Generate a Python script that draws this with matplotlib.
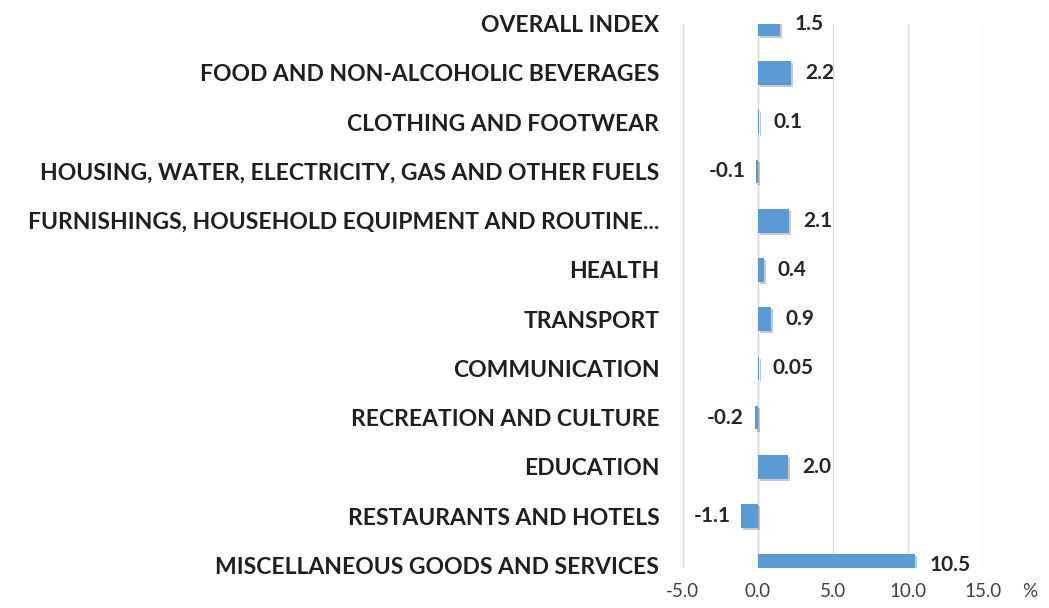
import matplotlib
matplotlib.use("Agg")
import matplotlib.pyplot as plt
import matplotlib.patheffects as pe

plt.rcParams['font.family'] = ['Lato', 'DejaVu Sans']

categories = [
    "OVERALL INDEX",
    "FOOD AND NON-ALCOHOLIC BEVERAGES",
    "CLOTHING AND FOOTWEAR",
    "HOUSING, WATER, ELECTRICITY, GAS AND OTHER FUELS",
    "FURNISHINGS, HOUSEHOLD EQUIPMENT AND ROUTINE...",
    "HEALTH",
    "TRANSPORT",
    "COMMUNICATION",
    "RECREATION AND CULTURE",
    "EDUCATION",
    "RESTAURANTS AND HOTELS",
    "MISCELLANEOUS GOODS AND SERVICES",
]
values = [1.5, 2.2, 0.1, -0.1, 2.1, 0.4, 0.9, 0.05, -0.2, 2.0, -1.1, 10.5]
value_labels = ["1.5", "2.2", "0.1", "-0.1", "2.1", "0.4", "0.9", "0.05", "-0.2", "2.0", "-1.1", "10.5"]
x_ticks = [-5, 0, 5, 10, 15]

fig = plt.figure(figsize=(10.49, 6.08), dpi=100)
ax = fig.add_axes([0.651, 0.066, 0.286, 0.895])

pos = list(range(len(categories)))
bars = ax.barh(pos, values, height=0.48, color="#5B9BD5", zorder=3,
               path_effects=[pe.SimplePatchShadow(offset=(1.5, -1.5), alpha=0.25),
                             pe.Normal()])

for p, v, lab in zip(pos, values, value_labels):
    if v >= 0:
        ax.annotate(lab, (v, p), xytext=(10, 0), textcoords="offset points",
                    ha="left", va="center", fontsize=15, fontweight="bold",
                    color="#262626", annotation_clip=False)
    else:
        ax.annotate(lab, (v, p), xytext=(-8, 0), textcoords="offset points",
                    ha="right", va="center", fontsize=15, fontweight="bold",
                    color="#262626", annotation_clip=False)

ax.set_xlim(-5, 15)
ax.set_ylim(11.05, 0)
ax.set_xticks(x_ticks)
ax.set_xticklabels([f"{t:.1f}" for t in x_ticks], fontsize=13.5, color="#404040")
ax.set_yticks(pos)
ax.set_yticklabels(categories, fontsize=16.5, fontweight="bold", color="#1F1F1F")
ax.tick_params(axis="y", length=0, pad=17)
ax.tick_params(axis="x", length=0, pad=11)

ax.grid(axis="x", color="#D9D9D9", linewidth=1, zorder=0)
ax.axvline(0, color="#D9D9D9", linewidth=1, zorder=1)
for s in ax.spines.values():
    s.set_visible(False)

# unit marker next to the last tick label
ax.annotate("%", (15, 0), xycoords=ax.get_xaxis_transform(), xytext=(28, -11),
            textcoords="offset points", fontsize=13.5, color="#404040",
            ha="left", va="top", annotation_clip=False)

fig.savefig("out.png", dpi=100)
